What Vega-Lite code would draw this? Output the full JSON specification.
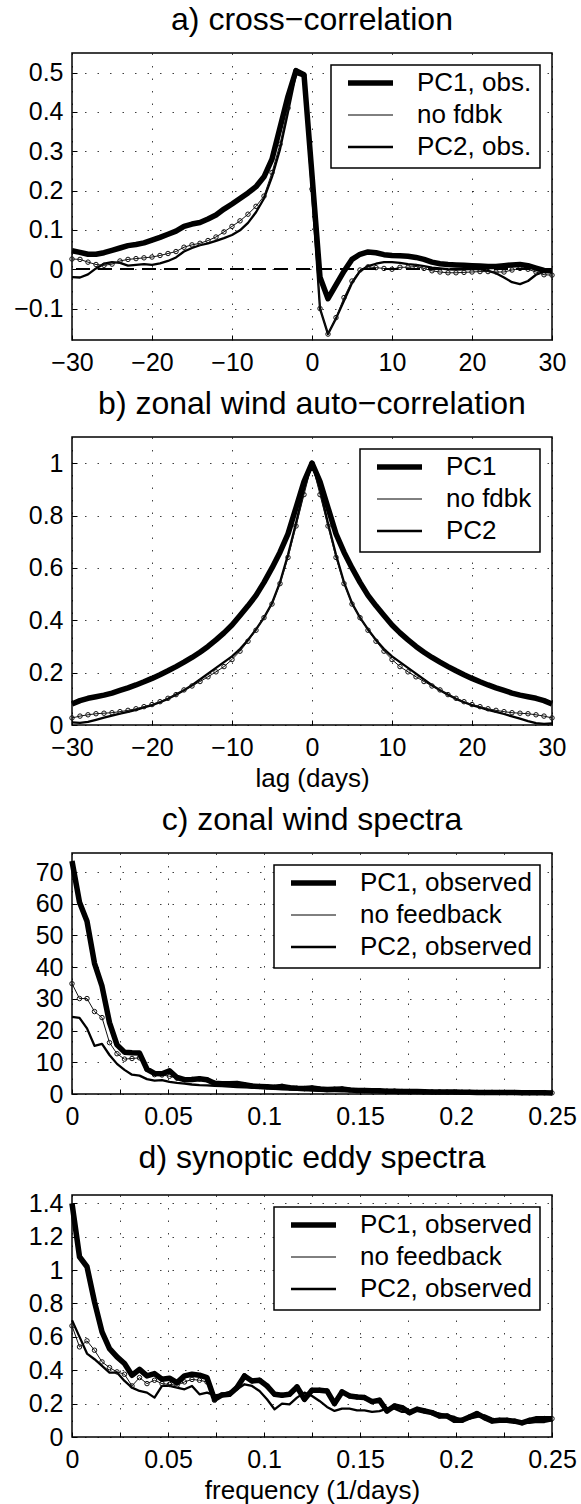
{
  "$schema": "https://vega.github.io/schema/vega-lite/v6.json",
  "padding": {"left": 12, "top": 3, "right": 0, "bottom": 0},
  "spacing": 10,
  "resolve": {"scale": {"strokeWidth": "independent"}, "legend": {"strokeWidth": "independent"}},
  "datasets": {
    "a": [
      {"lag": -30, "PC1": 0.047, "nofb": 0.026, "PC2": -0.02},
      {"lag": -29, "PC1": 0.043, "nofb": 0.025, "PC2": -0.021},
      {"lag": -28, "PC1": 0.038, "nofb": 0.018, "PC2": -0.013},
      {"lag": -27, "PC1": 0.038, "nofb": 0.012, "PC2": 0.002},
      {"lag": -26, "PC1": 0.042, "nofb": 0.01, "PC2": 0.014},
      {"lag": -25, "PC1": 0.048, "nofb": 0.013, "PC2": 0.018},
      {"lag": -24, "PC1": 0.054, "nofb": 0.021, "PC2": 0.016},
      {"lag": -23, "PC1": 0.06, "nofb": 0.025, "PC2": 0.009},
      {"lag": -22, "PC1": 0.063, "nofb": 0.027, "PC2": 0.011},
      {"lag": -21, "PC1": 0.067, "nofb": 0.029, "PC2": 0.013},
      {"lag": -20, "PC1": 0.074, "nofb": 0.031, "PC2": 0.011},
      {"lag": -19, "PC1": 0.081, "nofb": 0.035, "PC2": 0.015},
      {"lag": -18, "PC1": 0.089, "nofb": 0.04, "PC2": 0.021},
      {"lag": -17, "PC1": 0.097, "nofb": 0.045, "PC2": 0.03},
      {"lag": -16, "PC1": 0.109, "nofb": 0.056, "PC2": 0.045},
      {"lag": -15, "PC1": 0.115, "nofb": 0.062, "PC2": 0.054},
      {"lag": -14, "PC1": 0.119, "nofb": 0.066, "PC2": 0.061},
      {"lag": -13, "PC1": 0.128, "nofb": 0.073, "PC2": 0.066},
      {"lag": -12, "PC1": 0.138, "nofb": 0.082, "PC2": 0.072},
      {"lag": -11, "PC1": 0.153, "nofb": 0.095, "PC2": 0.079},
      {"lag": -10, "PC1": 0.166, "nofb": 0.109, "PC2": 0.087},
      {"lag": -9, "PC1": 0.18, "nofb": 0.123, "PC2": 0.099},
      {"lag": -8, "PC1": 0.194, "nofb": 0.14, "PC2": 0.118},
      {"lag": -7, "PC1": 0.21, "nofb": 0.16, "PC2": 0.145},
      {"lag": -6, "PC1": 0.235, "nofb": 0.186, "PC2": 0.18},
      {"lag": -5, "PC1": 0.28, "nofb": 0.246, "PC2": 0.235},
      {"lag": -4, "PC1": 0.36, "nofb": 0.318, "PC2": 0.305},
      {"lag": -3, "PC1": 0.44, "nofb": 0.41, "PC2": 0.4},
      {"lag": -2, "PC1": 0.505, "nofb": 0.505, "PC2": 0.497},
      {"lag": -1, "PC1": 0.495, "nofb": 0.493, "PC2": 0.49},
      {"lag": 0, "PC1": 0.24, "nofb": 0.204, "PC2": 0.2},
      {"lag": 1, "PC1": -0.02, "nofb": -0.1, "PC2": -0.1},
      {"lag": 2, "PC1": -0.075, "nofb": -0.165, "PC2": -0.165},
      {"lag": 3, "PC1": -0.04, "nofb": -0.123, "PC2": -0.125},
      {"lag": 4, "PC1": -0.005, "nofb": -0.072, "PC2": -0.08},
      {"lag": 5, "PC1": 0.025, "nofb": -0.03, "PC2": -0.035},
      {"lag": 6, "PC1": 0.038, "nofb": -0.002, "PC2": -0.005},
      {"lag": 7, "PC1": 0.044, "nofb": 0.006, "PC2": 0.008},
      {"lag": 8, "PC1": 0.042, "nofb": 0.004, "PC2": 0.014},
      {"lag": 9, "PC1": 0.037, "nofb": 0.002, "PC2": 0.018},
      {"lag": 10, "PC1": 0.035, "nofb": 0.0, "PC2": 0.018},
      {"lag": 11, "PC1": 0.034, "nofb": 0.005, "PC2": 0.016},
      {"lag": 12, "PC1": 0.033, "nofb": 0.005, "PC2": 0.013},
      {"lag": 13, "PC1": 0.03, "nofb": 0.007, "PC2": 0.011},
      {"lag": 14, "PC1": 0.025, "nofb": 0.002, "PC2": 0.008},
      {"lag": 15, "PC1": 0.018, "nofb": -0.004, "PC2": 0.004},
      {"lag": 16, "PC1": 0.014, "nofb": -0.007, "PC2": 0.002},
      {"lag": 17, "PC1": 0.012, "nofb": -0.009, "PC2": 0.0},
      {"lag": 18, "PC1": 0.011, "nofb": -0.009, "PC2": -0.001},
      {"lag": 19, "PC1": 0.01, "nofb": -0.008, "PC2": 0.0},
      {"lag": 20, "PC1": 0.009, "nofb": -0.007, "PC2": 0.001},
      {"lag": 21, "PC1": 0.008, "nofb": -0.006, "PC2": 0.0},
      {"lag": 22, "PC1": 0.007, "nofb": -0.006, "PC2": -0.004},
      {"lag": 23, "PC1": 0.007, "nofb": -0.007, "PC2": -0.01},
      {"lag": 24, "PC1": 0.009, "nofb": -0.007, "PC2": -0.021},
      {"lag": 25, "PC1": 0.011, "nofb": -0.002, "PC2": -0.033},
      {"lag": 26, "PC1": 0.012, "nofb": 0.002, "PC2": -0.038},
      {"lag": 27, "PC1": 0.009, "nofb": 0.0, "PC2": -0.03},
      {"lag": 28, "PC1": 0.003, "nofb": -0.007, "PC2": -0.014},
      {"lag": 29, "PC1": -0.003, "nofb": -0.014, "PC2": -0.006},
      {"lag": 30, "PC1": -0.004, "nofb": -0.015, "PC2": -0.008}
    ],
    "b": [
      {"lag": -30, "PC1": 0.08, "nofb": 0.027, "PC2": 0.01},
      {"lag": -29, "PC1": 0.093, "nofb": 0.034, "PC2": 0.008},
      {"lag": -28, "PC1": 0.102, "nofb": 0.039, "PC2": 0.012},
      {"lag": -27, "PC1": 0.108, "nofb": 0.043, "PC2": 0.02},
      {"lag": -26, "PC1": 0.114, "nofb": 0.045, "PC2": 0.028},
      {"lag": -25, "PC1": 0.122, "nofb": 0.047, "PC2": 0.036},
      {"lag": -24, "PC1": 0.132, "nofb": 0.051, "PC2": 0.043},
      {"lag": -23, "PC1": 0.142, "nofb": 0.056, "PC2": 0.05},
      {"lag": -22, "PC1": 0.153, "nofb": 0.062, "PC2": 0.058},
      {"lag": -21, "PC1": 0.165, "nofb": 0.07, "PC2": 0.067},
      {"lag": -20, "PC1": 0.178, "nofb": 0.078, "PC2": 0.076},
      {"lag": -19, "PC1": 0.192, "nofb": 0.089, "PC2": 0.087},
      {"lag": -18, "PC1": 0.207, "nofb": 0.102, "PC2": 0.1},
      {"lag": -17, "PC1": 0.223, "nofb": 0.116, "PC2": 0.116},
      {"lag": -16, "PC1": 0.24, "nofb": 0.134, "PC2": 0.133},
      {"lag": -15, "PC1": 0.258, "nofb": 0.149, "PC2": 0.152},
      {"lag": -14, "PC1": 0.278, "nofb": 0.166, "PC2": 0.174},
      {"lag": -13, "PC1": 0.3, "nofb": 0.184, "PC2": 0.196},
      {"lag": -12, "PC1": 0.325, "nofb": 0.203, "PC2": 0.218},
      {"lag": -11, "PC1": 0.352, "nofb": 0.223, "PC2": 0.24},
      {"lag": -10, "PC1": 0.382, "nofb": 0.25, "PC2": 0.262},
      {"lag": -9, "PC1": 0.418, "nofb": 0.282, "PC2": 0.29},
      {"lag": -8, "PC1": 0.455, "nofb": 0.32, "PC2": 0.325},
      {"lag": -7, "PC1": 0.495, "nofb": 0.362, "PC2": 0.365},
      {"lag": -6, "PC1": 0.545, "nofb": 0.41, "PC2": 0.41},
      {"lag": -5, "PC1": 0.6, "nofb": 0.462, "PC2": 0.465},
      {"lag": -4, "PC1": 0.66, "nofb": 0.54, "PC2": 0.545},
      {"lag": -3, "PC1": 0.73, "nofb": 0.64, "PC2": 0.65},
      {"lag": -2, "PC1": 0.83, "nofb": 0.76, "PC2": 0.77},
      {"lag": -1, "PC1": 0.93, "nofb": 0.88, "PC2": 0.9},
      {"lag": 0, "PC1": 1.0, "nofb": 1.0, "PC2": 1.0},
      {"lag": 1, "PC1": 0.93, "nofb": 0.88, "PC2": 0.9},
      {"lag": 2, "PC1": 0.83, "nofb": 0.76, "PC2": 0.77},
      {"lag": 3, "PC1": 0.73, "nofb": 0.64, "PC2": 0.65},
      {"lag": 4, "PC1": 0.66, "nofb": 0.54, "PC2": 0.545},
      {"lag": 5, "PC1": 0.6, "nofb": 0.462, "PC2": 0.465},
      {"lag": 6, "PC1": 0.545, "nofb": 0.41, "PC2": 0.41},
      {"lag": 7, "PC1": 0.495, "nofb": 0.362, "PC2": 0.365},
      {"lag": 8, "PC1": 0.455, "nofb": 0.32, "PC2": 0.325},
      {"lag": 9, "PC1": 0.418, "nofb": 0.282, "PC2": 0.29},
      {"lag": 10, "PC1": 0.382, "nofb": 0.25, "PC2": 0.262},
      {"lag": 11, "PC1": 0.352, "nofb": 0.223, "PC2": 0.24},
      {"lag": 12, "PC1": 0.325, "nofb": 0.203, "PC2": 0.218},
      {"lag": 13, "PC1": 0.3, "nofb": 0.184, "PC2": 0.196},
      {"lag": 14, "PC1": 0.278, "nofb": 0.166, "PC2": 0.174},
      {"lag": 15, "PC1": 0.258, "nofb": 0.149, "PC2": 0.152},
      {"lag": 16, "PC1": 0.24, "nofb": 0.134, "PC2": 0.133},
      {"lag": 17, "PC1": 0.223, "nofb": 0.116, "PC2": 0.116},
      {"lag": 18, "PC1": 0.207, "nofb": 0.102, "PC2": 0.1},
      {"lag": 19, "PC1": 0.192, "nofb": 0.089, "PC2": 0.087},
      {"lag": 20, "PC1": 0.178, "nofb": 0.078, "PC2": 0.076},
      {"lag": 21, "PC1": 0.165, "nofb": 0.07, "PC2": 0.067},
      {"lag": 22, "PC1": 0.153, "nofb": 0.062, "PC2": 0.058},
      {"lag": 23, "PC1": 0.142, "nofb": 0.056, "PC2": 0.05},
      {"lag": 24, "PC1": 0.132, "nofb": 0.051, "PC2": 0.042},
      {"lag": 25, "PC1": 0.122, "nofb": 0.047, "PC2": 0.033},
      {"lag": 26, "PC1": 0.114, "nofb": 0.045, "PC2": 0.024},
      {"lag": 27, "PC1": 0.108, "nofb": 0.043, "PC2": 0.015},
      {"lag": 28, "PC1": 0.102, "nofb": 0.039, "PC2": 0.007},
      {"lag": 29, "PC1": 0.093, "nofb": 0.034, "PC2": 0.004},
      {"lag": 30, "PC1": 0.08, "nofb": 0.027, "PC2": 0.006}
    ],
    "c": [
      {"f": 0, "PC1": 73.5, "nofb": 34.8, "PC2": 24.3},
      {"f": 0.00391, "PC1": 60.5, "nofb": 30.1, "PC2": 24},
      {"f": 0.00781, "PC1": 54.5, "nofb": 30.1, "PC2": 20.7},
      {"f": 0.01172, "PC1": 41.2, "nofb": 26, "PC2": 15.2},
      {"f": 0.01563, "PC1": 34, "nofb": 24.1, "PC2": 15.8},
      {"f": 0.01953, "PC1": 22.5, "nofb": 16.2, "PC2": 12.3},
      {"f": 0.02344, "PC1": 15.5, "nofb": 12.7, "PC2": 9.5},
      {"f": 0.02734, "PC1": 13.2, "nofb": 11, "PC2": 7.6},
      {"f": 0.03125, "PC1": 13, "nofb": 11.2, "PC2": 6.1},
      {"f": 0.03516, "PC1": 12.9, "nofb": 11.4, "PC2": 5.8},
      {"f": 0.03906, "PC1": 7.8, "nofb": 7.8, "PC2": 4.7},
      {"f": 0.04297, "PC1": 6.5, "nofb": 6.1, "PC2": 4.2},
      {"f": 0.04688, "PC1": 6.4, "nofb": 6, "PC2": 4.4},
      {"f": 0.05078, "PC1": 7.3, "nofb": 5.6, "PC2": 3.8},
      {"f": 0.05469, "PC1": 5.2, "nofb": 5, "PC2": 3.5},
      {"f": 0.05859, "PC1": 4.5, "nofb": 4.5, "PC2": 3.3},
      {"f": 0.0625, "PC1": 4.6, "nofb": 4.6, "PC2": 3.0},
      {"f": 0.06641, "PC1": 4.8, "nofb": 4.8, "PC2": 2.8},
      {"f": 0.07031, "PC1": 4.5, "nofb": 4.5, "PC2": 2.7},
      {"f": 0.07422, "PC1": 3.4, "nofb": 3.4, "PC2": 2.6},
      {"f": 0.07813, "PC1": 3.2, "nofb": 3.2, "PC2": 2.5},
      {"f": 0.08203, "PC1": 3.2, "nofb": 3.2, "PC2": 2.3},
      {"f": 0.08594, "PC1": 3.3, "nofb": 3.3, "PC2": 2.2},
      {"f": 0.08984, "PC1": 2.9, "nofb": 2.9, "PC2": 2.1},
      {"f": 0.09375, "PC1": 2.5, "nofb": 2.5, "PC2": 2.0},
      {"f": 0.09766, "PC1": 2.4, "nofb": 2.4, "PC2": 1.9},
      {"f": 0.10156, "PC1": 2.3, "nofb": 2.3, "PC2": 1.8},
      {"f": 0.10547, "PC1": 2.1, "nofb": 2.1, "PC2": 1.6},
      {"f": 0.10938, "PC1": 2.4, "nofb": 2.4, "PC2": 1.5},
      {"f": 0.11328, "PC1": 2.0, "nofb": 2.0, "PC2": 1.4},
      {"f": 0.11719, "PC1": 1.8, "nofb": 1.8, "PC2": 1.3},
      {"f": 0.12109, "PC1": 1.7, "nofb": 1.7, "PC2": 1.2},
      {"f": 0.125, "PC1": 1.9, "nofb": 1.9, "PC2": 1.1},
      {"f": 0.12891, "PC1": 1.6, "nofb": 1.6, "PC2": 1.0},
      {"f": 0.13281, "PC1": 1.4, "nofb": 1.4, "PC2": 0.95},
      {"f": 0.13672, "PC1": 1.5, "nofb": 1.5, "PC2": 0.9},
      {"f": 0.14063, "PC1": 1.6, "nofb": 1.6, "PC2": 0.85},
      {"f": 0.14453, "PC1": 1.3, "nofb": 1.3, "PC2": 0.8},
      {"f": 0.14844, "PC1": 1.1, "nofb": 1.1, "PC2": 0.75},
      {"f": 0.15234, "PC1": 1.1, "nofb": 1.1, "PC2": 0.7},
      {"f": 0.15625, "PC1": 1.0, "nofb": 1.0, "PC2": 0.65},
      {"f": 0.16016, "PC1": 1.0, "nofb": 1.0, "PC2": 0.6},
      {"f": 0.16406, "PC1": 0.9, "nofb": 0.9, "PC2": 0.6},
      {"f": 0.16797, "PC1": 0.9, "nofb": 0.9, "PC2": 0.55},
      {"f": 0.17188, "PC1": 0.8, "nofb": 0.8, "PC2": 0.5},
      {"f": 0.17578, "PC1": 0.8, "nofb": 0.8, "PC2": 0.5},
      {"f": 0.17969, "PC1": 0.75, "nofb": 0.75, "PC2": 0.45},
      {"f": 0.18359, "PC1": 0.7, "nofb": 0.7, "PC2": 0.45},
      {"f": 0.1875, "PC1": 0.65, "nofb": 0.65, "PC2": 0.4},
      {"f": 0.19141, "PC1": 0.65, "nofb": 0.65, "PC2": 0.4},
      {"f": 0.19531, "PC1": 0.6, "nofb": 0.6, "PC2": 0.4},
      {"f": 0.19922, "PC1": 0.6, "nofb": 0.6, "PC2": 0.35},
      {"f": 0.20313, "PC1": 0.55, "nofb": 0.55, "PC2": 0.35},
      {"f": 0.20703, "PC1": 0.55, "nofb": 0.55, "PC2": 0.35},
      {"f": 0.21094, "PC1": 0.5, "nofb": 0.5, "PC2": 0.3},
      {"f": 0.21484, "PC1": 0.5, "nofb": 0.5, "PC2": 0.3},
      {"f": 0.21875, "PC1": 0.5, "nofb": 0.5, "PC2": 0.3},
      {"f": 0.22266, "PC1": 0.45, "nofb": 0.45, "PC2": 0.3},
      {"f": 0.22656, "PC1": 0.45, "nofb": 0.45, "PC2": 0.25},
      {"f": 0.23047, "PC1": 0.45, "nofb": 0.45, "PC2": 0.25},
      {"f": 0.23438, "PC1": 0.4, "nofb": 0.4, "PC2": 0.25},
      {"f": 0.23828, "PC1": 0.4, "nofb": 0.4, "PC2": 0.25},
      {"f": 0.24219, "PC1": 0.4, "nofb": 0.4, "PC2": 0.2},
      {"f": 0.24609, "PC1": 0.4, "nofb": 0.4, "PC2": 0.2},
      {"f": 0.25, "PC1": 0.35, "nofb": 0.35, "PC2": 0.2}
    ],
    "d": [
      {"f": 0, "PC1": 1.4, "nofb": 0.666, "PC2": 0.7},
      {"f": 0.00391, "PC1": 1.08, "nofb": 0.54, "PC2": 0.6},
      {"f": 0.00781, "PC1": 1.02, "nofb": 0.576, "PC2": 0.5},
      {"f": 0.01172, "PC1": 0.81, "nofb": 0.52, "PC2": 0.466},
      {"f": 0.01563, "PC1": 0.63, "nofb": 0.45, "PC2": 0.426},
      {"f": 0.01953, "PC1": 0.53, "nofb": 0.416, "PC2": 0.386},
      {"f": 0.02344, "PC1": 0.48, "nofb": 0.39, "PC2": 0.386},
      {"f": 0.02734, "PC1": 0.44, "nofb": 0.376, "PC2": 0.336},
      {"f": 0.03125, "PC1": 0.37, "nofb": 0.306, "PC2": 0.296},
      {"f": 0.03516, "PC1": 0.405, "nofb": 0.356, "PC2": 0.276},
      {"f": 0.03906, "PC1": 0.366, "nofb": 0.32, "PC2": 0.266},
      {"f": 0.04297, "PC1": 0.38, "nofb": 0.34, "PC2": 0.236},
      {"f": 0.04688, "PC1": 0.346, "nofb": 0.32, "PC2": 0.306},
      {"f": 0.05078, "PC1": 0.352, "nofb": 0.315, "PC2": 0.306},
      {"f": 0.05469, "PC1": 0.326, "nofb": 0.31, "PC2": 0.296},
      {"f": 0.05859, "PC1": 0.366, "nofb": 0.33, "PC2": 0.286},
      {"f": 0.0625, "PC1": 0.376, "nofb": 0.345, "PC2": 0.306},
      {"f": 0.06641, "PC1": 0.37, "nofb": 0.34, "PC2": 0.256},
      {"f": 0.07031, "PC1": 0.356, "nofb": 0.33, "PC2": 0.266},
      {"f": 0.07422, "PC1": 0.226, "nofb": 0.22, "PC2": 0.25},
      {"f": 0.07813, "PC1": 0.252, "nofb": 0.252, "PC2": 0.256},
      {"f": 0.08203, "PC1": 0.256, "nofb": 0.256, "PC2": 0.27},
      {"f": 0.08594, "PC1": 0.296, "nofb": 0.296, "PC2": 0.286},
      {"f": 0.08984, "PC1": 0.366, "nofb": 0.366, "PC2": 0.316},
      {"f": 0.09375, "PC1": 0.336, "nofb": 0.336, "PC2": 0.306},
      {"f": 0.09766, "PC1": 0.34, "nofb": 0.34, "PC2": 0.276},
      {"f": 0.10156, "PC1": 0.306, "nofb": 0.306, "PC2": 0.226},
      {"f": 0.10547, "PC1": 0.256, "nofb": 0.256, "PC2": 0.166},
      {"f": 0.10938, "PC1": 0.25, "nofb": 0.25, "PC2": 0.2},
      {"f": 0.11328, "PC1": 0.256, "nofb": 0.256, "PC2": 0.196},
      {"f": 0.11719, "PC1": 0.3, "nofb": 0.3, "PC2": 0.236},
      {"f": 0.12109, "PC1": 0.226, "nofb": 0.226, "PC2": 0.266},
      {"f": 0.125, "PC1": 0.28, "nofb": 0.28, "PC2": 0.246},
      {"f": 0.12891, "PC1": 0.28, "nofb": 0.28, "PC2": 0.216},
      {"f": 0.13281, "PC1": 0.276, "nofb": 0.276, "PC2": 0.18},
      {"f": 0.13672, "PC1": 0.2, "nofb": 0.2, "PC2": 0.156},
      {"f": 0.14063, "PC1": 0.27, "nofb": 0.27, "PC2": 0.17},
      {"f": 0.14453, "PC1": 0.246, "nofb": 0.246, "PC2": 0.17},
      {"f": 0.14844, "PC1": 0.24, "nofb": 0.24, "PC2": 0.16},
      {"f": 0.15234, "PC1": 0.236, "nofb": 0.236, "PC2": 0.16},
      {"f": 0.15625, "PC1": 0.212, "nofb": 0.212, "PC2": 0.15},
      {"f": 0.16016, "PC1": 0.22, "nofb": 0.22, "PC2": 0.155},
      {"f": 0.16406, "PC1": 0.156, "nofb": 0.156, "PC2": 0.17},
      {"f": 0.16797, "PC1": 0.186, "nofb": 0.186, "PC2": 0.17},
      {"f": 0.17188, "PC1": 0.176, "nofb": 0.176, "PC2": 0.15},
      {"f": 0.17578, "PC1": 0.146, "nofb": 0.146, "PC2": 0.15},
      {"f": 0.17969, "PC1": 0.166, "nofb": 0.166, "PC2": 0.16},
      {"f": 0.18359, "PC1": 0.156, "nofb": 0.156, "PC2": 0.15},
      {"f": 0.1875, "PC1": 0.146, "nofb": 0.146, "PC2": 0.15},
      {"f": 0.19141, "PC1": 0.126, "nofb": 0.126, "PC2": 0.14},
      {"f": 0.19531, "PC1": 0.126, "nofb": 0.126, "PC2": 0.13},
      {"f": 0.19922, "PC1": 0.1, "nofb": 0.1, "PC2": 0.12},
      {"f": 0.20313, "PC1": 0.1, "nofb": 0.1, "PC2": 0.1},
      {"f": 0.20703, "PC1": 0.12, "nofb": 0.12, "PC2": 0.11},
      {"f": 0.21094, "PC1": 0.14, "nofb": 0.14, "PC2": 0.12},
      {"f": 0.21484, "PC1": 0.116, "nofb": 0.116, "PC2": 0.13},
      {"f": 0.21875, "PC1": 0.096, "nofb": 0.096, "PC2": 0.11},
      {"f": 0.22266, "PC1": 0.1, "nofb": 0.1, "PC2": 0.1},
      {"f": 0.22656, "PC1": 0.1, "nofb": 0.1, "PC2": 0.1},
      {"f": 0.23047, "PC1": 0.095, "nofb": 0.095, "PC2": 0.1},
      {"f": 0.23438, "PC1": 0.085, "nofb": 0.085, "PC2": 0.085},
      {"f": 0.23828, "PC1": 0.1, "nofb": 0.1, "PC2": 0.085},
      {"f": 0.24219, "PC1": 0.11, "nofb": 0.11, "PC2": 0.09},
      {"f": 0.24609, "PC1": 0.11, "nofb": 0.11, "PC2": 0.09},
      {"f": 0.25, "PC1": 0.11, "nofb": 0.11, "PC2": 0.1}
    ]
  },
  "vconcat": [
    {
      "width": 480, "height": 287,
      "title": "a) cross−correlation",
      "data": {"name": "a"},
      "layer": [
        {"mark": {"type": "line", "color": "black", "strokeJoin": "round"}, "encoding": {
          "x": {"field": "lag", "type": "quantitative", "scale": {"domain": [-30, 30], "nice": false}, "axis": {"values": [-30, -20, -10, 0, 10, 20, 30], "title": null, "format": "d", "labelOverlap": false, "tickCount": 20}},
          "y": {"field": "PC2", "type": "quantitative", "scale": {"domain": [-0.18, 0.55], "nice": false, "zero": false}, "axis": {"values": [-0.1, 0, 0.1, 0.2, 0.3, 0.4, 0.5], "format": "~g", "title": null, "labelOverlap": false, "tickCount": 20}},
          "strokeWidth": {"datum": 2.3, "type": "quantitative", "scale": {"domain": [1, 5.5], "range": [1, 5.5], "zero": false, "nice": false},
            "legend": {"title": null, "values": [5.5, 1, 2.3], "labelExpr": "datum.value > 5 ? 'PC1, obs.' : datum.value < 1.5 ? 'no fdbk' : 'PC2, obs.'"}}}},
        {"mark": {"type": "line", "color": "#111111"}, "encoding": {"x": {"field": "lag", "type": "quantitative"}, "y": {"field": "nofb", "type": "quantitative"}, "strokeWidth": {"datum": 1, "type": "quantitative"}}},
        {"mark": {"type": "point", "shape": "circle", "size": 20, "filled": false, "strokeWidth": 1, "opacity": 1, "color": "#111111"}, "encoding": {"x": {"field": "lag", "type": "quantitative"}, "y": {"field": "nofb", "type": "quantitative"}}},
        {"mark": {"type": "line", "color": "black", "strokeJoin": "round"}, "encoding": {"x": {"field": "lag", "type": "quantitative"}, "y": {"field": "PC1", "type": "quantitative"}, "strokeWidth": {"datum": 5.5, "type": "quantitative"}}},
        {"mark": {"type": "rule", "color": "black", "strokeWidth": 1, "strokeDash": [14, 8]}, "encoding": {"y": {"datum": 0, "type": "quantitative"}}}
      ]
    },
    {
      "width": 480, "height": 288,
      "title": "b) zonal wind auto−correlation",
      "data": {"name": "b"},
      "layer": [
        {"mark": {"type": "line", "color": "black", "strokeJoin": "round"}, "encoding": {
          "x": {"field": "lag", "type": "quantitative", "scale": {"domain": [-30, 30], "nice": false}, "axis": {"values": [-30, -20, -10, 0, 10, 20, 30], "title": "lag (days)", "format": "d", "labelOverlap": false, "tickCount": 20}},
          "y": {"field": "PC2", "type": "quantitative", "scale": {"domain": [0, 1.1], "nice": false, "zero": false}, "axis": {"values": [0, 0.2, 0.4, 0.6, 0.8, 1], "format": "~g", "title": null, "labelOverlap": false, "tickCount": 20}},
          "strokeWidth": {"datum": 2.3, "type": "quantitative", "scale": {"domain": [1, 5.5], "range": [1, 5.5], "zero": false, "nice": false},
            "legend": {"title": null, "values": [5.5, 1, 2.3], "labelExpr": "datum.value > 5 ? 'PC1' : datum.value < 1.5 ? 'no fdbk' : 'PC2'"}}}},
        {"mark": {"type": "line", "color": "#111111"}, "encoding": {"x": {"field": "lag", "type": "quantitative"}, "y": {"field": "nofb", "type": "quantitative"}, "strokeWidth": {"datum": 1, "type": "quantitative"}}},
        {"mark": {"type": "point", "shape": "circle", "size": 20, "filled": false, "strokeWidth": 1, "opacity": 1, "color": "#111111"}, "encoding": {"x": {"field": "lag", "type": "quantitative"}, "y": {"field": "nofb", "type": "quantitative"}}},
        {"mark": {"type": "line", "color": "black", "strokeJoin": "round"}, "encoding": {"x": {"field": "lag", "type": "quantitative"}, "y": {"field": "PC1", "type": "quantitative"}, "strokeWidth": {"datum": 5.5, "type": "quantitative"}}}
      ]
    },
    {
      "width": 480, "height": 241,
      "title": "c) zonal wind spectra",
      "data": {"name": "c"},
      "layer": [
        {"mark": {"type": "line", "color": "black", "strokeJoin": "round"}, "encoding": {
          "x": {"field": "f", "type": "quantitative", "scale": {"domain": [0, 0.25], "nice": false}, "axis": {"values": [0, 0.025, 0.05, 0.075, 0.1, 0.125, 0.15, 0.175, 0.2, 0.225, 0.25], "labelExpr": "round(datum.value*1000) % 50 === 0 ? datum.label : ''", "format": "~g", "title": null, "labelOverlap": false, "tickCount": 20}},
          "y": {"field": "PC2", "type": "quantitative", "scale": {"domain": [0, 76], "nice": false, "zero": false}, "axis": {"values": [0, 10, 20, 30, 40, 50, 60, 70], "format": "d", "title": null, "labelOverlap": false, "tickCount": 20}},
          "strokeWidth": {"datum": 2.3, "type": "quantitative", "scale": {"domain": [1, 5.5], "range": [1, 5.5], "zero": false, "nice": false},
            "legend": {"title": null, "values": [5.5, 1, 2.3], "labelExpr": "datum.value > 5 ? 'PC1, observed' : datum.value < 1.5 ? 'no feedback' : 'PC2, observed'"}}}},
        {"mark": {"type": "line", "color": "#111111"}, "encoding": {"x": {"field": "f", "type": "quantitative"}, "y": {"field": "nofb", "type": "quantitative"}, "strokeWidth": {"datum": 1, "type": "quantitative"}}},
        {"mark": {"type": "point", "shape": "circle", "size": 20, "filled": false, "strokeWidth": 1, "opacity": 1, "color": "#111111"}, "encoding": {"x": {"field": "f", "type": "quantitative"}, "y": {"field": "nofb", "type": "quantitative"}}},
        {"mark": {"type": "line", "color": "black", "strokeJoin": "round"}, "encoding": {"x": {"field": "f", "type": "quantitative"}, "y": {"field": "PC1", "type": "quantitative"}, "strokeWidth": {"datum": 5.5, "type": "quantitative"}}}
      ]
    },
    {
      "width": 480, "height": 242,
      "title": "d) synoptic eddy spectra",
      "data": {"name": "d"},
      "layer": [
        {"mark": {"type": "line", "color": "black", "strokeJoin": "round"}, "encoding": {
          "x": {"field": "f", "type": "quantitative", "scale": {"domain": [0, 0.25], "nice": false}, "axis": {"values": [0, 0.025, 0.05, 0.075, 0.1, 0.125, 0.15, 0.175, 0.2, 0.225, 0.25], "labelExpr": "round(datum.value*1000) % 50 === 0 ? datum.label : ''", "format": "~g", "title": "frequency (1/days)", "labelOverlap": false, "tickCount": 20}},
          "y": {"field": "PC2", "type": "quantitative", "scale": {"domain": [0, 1.45], "nice": false, "zero": false}, "axis": {"values": [0, 0.2, 0.4, 0.6, 0.8, 1, 1.2, 1.4], "format": "~g", "title": null, "labelOverlap": false, "tickCount": 20}},
          "strokeWidth": {"datum": 2.3, "type": "quantitative", "scale": {"domain": [1, 5.5], "range": [1, 5.5], "zero": false, "nice": false},
            "legend": {"title": null, "values": [5.5, 1, 2.3], "labelExpr": "datum.value > 5 ? 'PC1, observed' : datum.value < 1.5 ? 'no feedback' : 'PC2, observed'"}}}},
        {"mark": {"type": "line", "color": "#111111"}, "encoding": {"x": {"field": "f", "type": "quantitative"}, "y": {"field": "nofb", "type": "quantitative"}, "strokeWidth": {"datum": 1, "type": "quantitative"}}},
        {"mark": {"type": "point", "shape": "circle", "size": 20, "filled": false, "strokeWidth": 1, "opacity": 1, "color": "#111111"}, "encoding": {"x": {"field": "f", "type": "quantitative"}, "y": {"field": "nofb", "type": "quantitative"}}},
        {"mark": {"type": "line", "color": "black", "strokeJoin": "round"}, "encoding": {"x": {"field": "f", "type": "quantitative"}, "y": {"field": "PC1", "type": "quantitative"}, "strokeWidth": {"datum": 5.5, "type": "quantitative"}}}
      ]
    }
  ],
  "config": {
    "background": "white",
    "font": "Liberation Sans",
    "view": {"stroke": "black", "strokeWidth": 1.5},
    "axis": {
      "domain": false, "ticks": true, "tickSize": -5, "tickColor": "black", "tickWidth": 1, "tickCount": 20, "grid": true,
      "gridColor": "#000000", "gridDash": [1.5, 11], "gridWidth": 1, "gridOpacity": 0.75,
      "labelFont": "Liberation Sans", "labelFontSize": 25, "labelColor": "black", "labelPadding": 14, "labelFlush": false, "labelOverlap": false,
      "titleFont": "Liberation Sans", "titleFontSize": 26, "titleFontWeight": "normal", "titleColor": "black", "titlePadding": 5
    },
    "axisX": {"labelPadding": 15.5},
    "legend": {
      "orient": "top-right", "offset": 12, "padding": 8,
      "strokeColor": "black", "strokeWidth": 1.5, "fillColor": "white",
      "labelFont": "Liberation Sans", "labelFontSize": 26, "labelColor": "black", "labelLimit": 400,
      "symbolType": "stroke", "symbolSize": 2025, "symbolStrokeColor": "black", "symbolOffset": 6,
      "labelOffset": 21, "rowPadding": 6, "clipHeight": 20
    },
    "title": {"font": "Liberation Sans", "fontSize": 32, "fontWeight": "normal", "color": "black", "offset": 16, "frame": "group"}
  }
}
